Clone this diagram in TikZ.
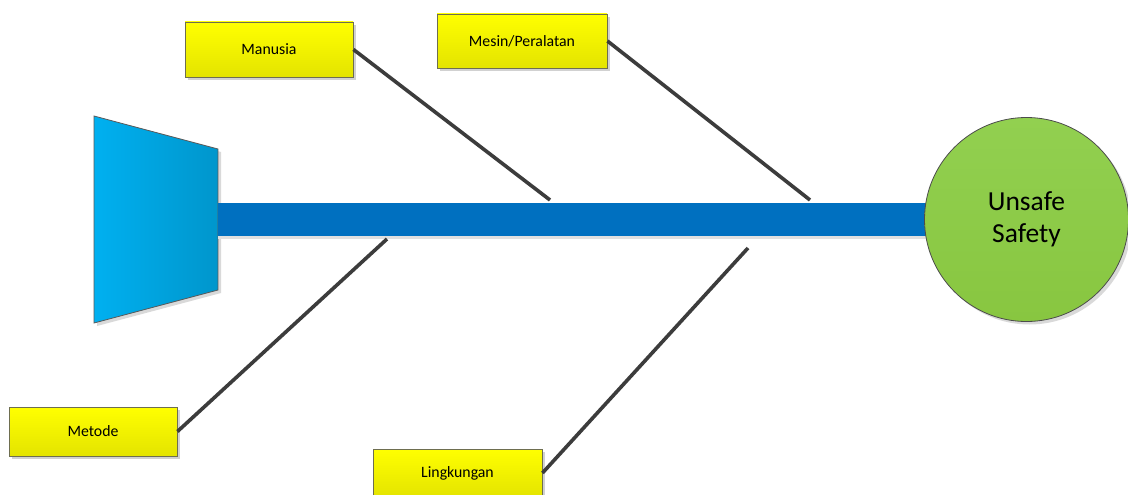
\documentclass[tikz,border=0pt]{standalone}
\usepackage{fontspec}
\setmainfont{Carlito}
\usetikzlibrary{shadows}
\definecolor{spineblue}{HTML}{0070C0}
\definecolor{tailL}{HTML}{00B0F0}
\definecolor{tailR}{HTML}{0096CC}
\definecolor{boneline}{HTML}{3C3C3C}
\definecolor{boxtop}{HTML}{FFFF00}
\definecolor{boxbot}{HTML}{E4E400}
\definecolor{boxedge}{HTML}{6E6E50}
\definecolor{headtop}{HTML}{92D050}
\definecolor{headbot}{HTML}{88C640}
\tikzset{
  causebox/.style={draw=boxedge, line width=0.9pt, top color=boxtop, bottom color=boxbot,
    font=\fontsize{15.8}{19}\selectfont, text=black, inner sep=0pt,
    drop shadow={shadow xshift=3pt, shadow yshift=-3pt, fill=black!18, opacity=1}},
  bone/.style={draw=boneline, line width=3.6pt},
  headnode/.style={circle, draw=black!70, line width=0.8pt, top color=headtop, bottom color=headbot,
    minimum size=204pt, inner sep=0pt, align=center, font=\fontsize{27.5}{32}\selectfont,
    drop shadow={shadow xshift=3pt, shadow yshift=-3pt, fill=black!15, opacity=1}}
}
\begin{document}
\begin{tikzpicture}[x=1pt,y=-1pt]
\useasboundingbox (0,0) rectangle (1128,495);
\clip (0,0) rectangle (1128,495);
\fill[white] (0,0) rectangle (1128,495);
% tail
\fill[black!15] (97,119) -- (221,152) -- (221,293) -- (97,326) -- cycle;
\shade[left color=tailL, right color=tailR, draw=black!65, line width=0.8pt]
  (94,116) -- (218,149) -- (218,290) -- (94,323) -- cycle;
% spine
\fill[black!12] (218,236) rectangle (930,239);
\fill[spineblue] (218,203) rectangle (930,236);
% head
\node[headnode] (head) at (1026.5,219.5) {Unsafe\\Safety};
% cause boxes
\node[causebox, minimum width=168pt, minimum height=55pt] (man) at (269,49.5) {Manusia};
\node[causebox, minimum width=170pt, minimum height=54pt] (mes) at (522,41) {Mesin/Peralatan};
\node[causebox, minimum width=168pt, minimum height=49pt] (met) at (93,431.5) {Metode};
\node[causebox, minimum width=169pt, minimum height=48pt] (lin) at (457.5,473) {Lingkungan};
% attachment points on spine
\coordinate (jman) at (550,200);
\coordinate (jmes) at (810,200);
\coordinate (jmet) at (387,239);
\coordinate (jlin) at (748,248);
% bones
\draw[bone] (man.east) -- (jman);
\draw[bone] (mes.east) -- (jmes);
\draw[bone] (met.east) -- (jmet);
\draw[bone] (lin.east) -- (jlin);
\end{tikzpicture}
\end{document}
